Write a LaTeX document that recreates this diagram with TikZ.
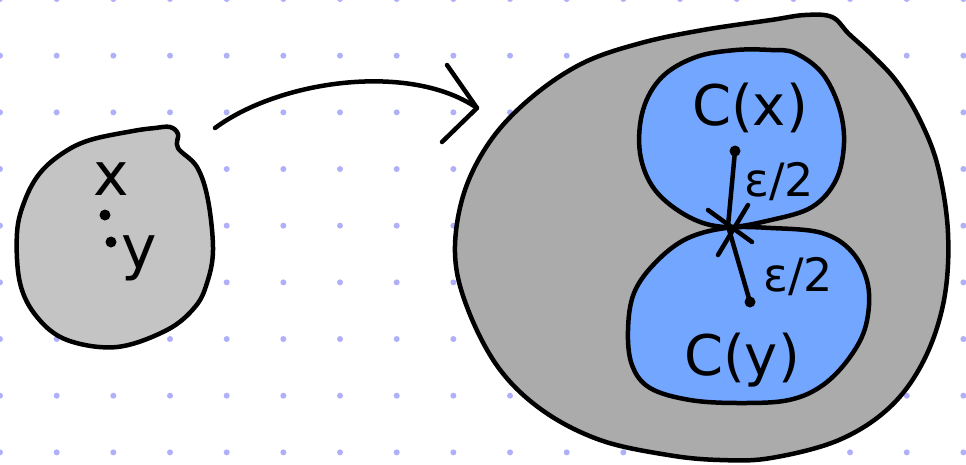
\documentclass[tikz,border=0pt]{standalone}
\usepackage{fontspec}
\setmainfont{DejaVu Sans}
\definecolor{dotblue}{RGB}{176,176,250}
\definecolor{lightgrey}{RGB}{196,196,196}
\definecolor{darkgrey}{RGB}{171,171,171}
\definecolor{ballblue}{RGB}{115,166,255}
\tikzstyle{sketch} = [line width=4.5pt, 
line cap=round, 
line join=round, 
draw=black]
\tikzstyle{hand} = [inner sep=0pt, 
anchor=base, 
font=\fontsize{56}{60}\selectfont]
\tikzstyle{small} = [inner sep=0pt, 
anchor=base, 
font=\fontsize{60}{64}\selectfont]
\tikzstyle{halfeps} = [inner sep=0pt, 
font=\fontsize{46}{50}\selectfont]
\tikzstyle{blackdot} = [fill=black]

\begin{document}
\begin{tikzpicture}[x=1pt, y=-1pt]
        \useasboundingbox (0,0) rectangle (966,464);
        % dotted paper
        \foreach \i in {0,...,17}
            \foreach \j in {0,...,8}
                \fill[dotblue] (56.67*\i, 56.67*\j - 1) circle (3);

        % the small space with x and y
        \draw[sketch, fill=lightgrey] plot[smooth cycle, tension=0.6] coordinates {
            (133,131) (155,128) (170,127) (178,134) (178,148) (197,167) (208,200)
            (213,250) (207,283) (195,307) (167,330) (117,347) (67,340) (37,317)
            (20,283) (17,233) (25,200) (40,173) (63,153) (90,140)};
        \node (labx) [small] at (111,195) {x};
        \node (laby) [small] at (139,268) {y};
        \coordinate (px) at (105,215);
        \coordinate (py) at (111,242);
        \fill[blackdot] (px) circle (5.5);
        \fill[blackdot] (py) circle (5.5);

        % the arrow
        \coordinate (arrowstart) at (215,128);
        \coordinate (arrowend) at (477,108);
        \draw[sketch] (arrowstart) .. controls (280,80) and (410,62) .. (arrowend);
        \draw[sketch] (arrowend) ++(-30,-43) -- (arrowend) -- ++(-35,34);

        % the big space
        \draw[sketch, fill=darkgrey] plot[smooth cycle, tension=0.6] coordinates {
            (455,253) (464,193) (491,140) (532,97) (583,63) (641,43) (703,30)
            (771,20) (805,15) (832,17) (849,34) (872,55) (897,82) (920,120)
            (938,167) (948,233) (944,300) (924,360) (890,407) (839,440) (771,458)
            (720,460) (668,455) (600,440) (542,410) (498,367) (467,307)};

        % the two components
        \draw[sketch, fill=ballblue] plot[smooth cycle, tension=0.6] coordinates {
            (736,50) (771,50) (795,53) (822,73) (839,107) (844,143) (836,180)
            (812,207) (771,220) (726,227) (689,217) (655,190) (640,153) (643,110)
            (662,77) (696,57)};
        \draw[sketch, fill=ballblue] plot[smooth cycle, tension=0.6] coordinates {
            (726,228) (771,228) (822,233) (852,252) (868,285) (866,325) (850,357)
            (823,385) (789,400) (740,403) (690,400) (650,388) (632,365) (628,330)
            (634,293) (655,263) (686,239)};
        \node (compx) [hand] at (750,125) {C(x)};
        \node (compy) [hand] at (742,375) {C(y)};

        % radii to the touching point
        \coordinate (cx) at (735,151);
        \coordinate (touch) at (728,226);
        \coordinate (cy) at (750,302);
        \draw[sketch] (cx) -- (touch) -- (cy);
        \draw[sketch] (708,210) -- (752,242);
        \draw[sketch] (748,205) -- (718,255);
        \fill[blackdot] (cx) circle (5.5);
        \fill[blackdot] (cy) circle (5.5);
        \node (epsup) [halfeps] at (779,182) {ε/2};
        \node (epsdown) [halfeps] at (798,277) {ε/2};
\end{tikzpicture}
\end{document}
